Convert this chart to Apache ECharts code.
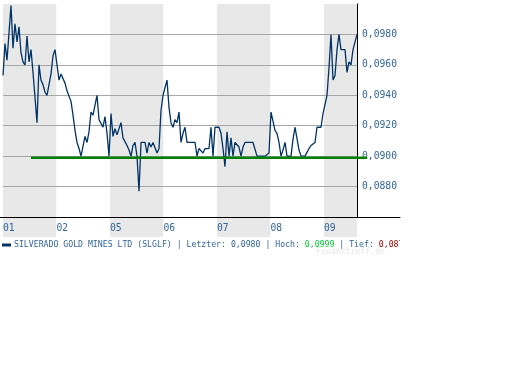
<!DOCTYPE html>
<html><head><meta charset="utf-8">
<script src="https://cdn.jsdelivr.net/npm/echarts@6/dist/echarts.min.js"></script>
<style>html,body{margin:0;padding:0;background:#fff}#c{width:512px;height:384px}</style>
</head><body><div id="c"></div>
<script>
var seriesName = 'SILVERADO GOLD MINES LTD (SLGLF)';
var monthLabels = ['01','02','05','06','07','08','09'];
var prices = [
 .0953,.0974,.0963,.0981,.0999,.0971,.0987,.0975,.0985,
 .0968,.0962,.0960,.0979,.0962,.0970,.0955,.0955,.0922,.0960,
 .0950,.0947,.0942,.0940,.0940,.0954,.0966,.0970,.0960,.0950,
 .0954,.0954,.0948,.0943,.0942,.0936,.0927,.0917,.0909,.0905,
 .0900,.0900,.0913,.0909,.0916,
 .0929,.0927,.0928,.0940,.0924,.0924,.0919,.0926,.0915,.0900,
 .0928,.0913,.0918,.0914,.0913,.0922,.0912,.0912,.0907,.0904,
 .0900,.0907,.0909,.0900,.0877,.0909,.0909,.0909,.0902,.0909,
 .0906,.0909,.0909,.0902,.0905,.0930,.0940,.0940,.0950,.0932,
 .0922,.0919,.0924,.0922,.0929,
 .0909,.0915,.0919,.0909,.0909,.0909,.0909,.0909,.0900,.0905,
 .0905,.0902,.0905,.0905,.0905,.0919,.0900,.0919,.0918,.0919,
 .0915,.0905,.0893,.0916,.0900,.0912,.0900,.0909,.0909,.0906,
 .0900,.0906,.0909,.0909,.0909,.0909,.0909,.0909,.0900,.0900,
 .0900,.0900,.0900,.0900,.0902,
 .0929,.0928,.0917,.0915,.0909,.0900,.0904,.0909,.0900,.0900,
 .0900,.0911,.0919,.0919,.0904,.0900,.0900,.0900,.0900,.0905,
 .0907,.0906,.0909,.0919,.0919,.0919,.0928,.0928,.0940,.0958,
 .0980,.0950,.0953,.0970,.0980,.0970,.0970,.0970,.0955,.0962,
 .0960,.0970,.0970,.0980
];
var refLevel = 0.0899;
var refStart = 14, refEnd = 182;
var yMin = 0.086, yMax = 0.100, yStep = 0.002;

function fmt(v){ return v.toFixed(4).replace('.', ','); }
var last = prices[prices.length-1];
var hi = Math.max.apply(null, prices);
var lo = Math.min.apply(null, prices);

var font = 'DejaVu Sans Mono';
var chart = echarts.init(document.getElementById('c'), null, {renderer:'canvas'});
chart.setOption({
  animation: false,
  backgroundColor: '#ffffff',
  grid: [
    {left: 3, right: 155, top: 4, bottom: 147},
    {left: 3, right: 155, top: 4, bottom: 167},
    {left: 0, right: 112, top: 4, bottom: 167}
  ],
  xAxis: [
    {gridIndex: 0, type: 'value', min: 0, max: 354/53.5, interval: 1, z: -5,
     axisLine: {show: false}, axisTick: {show: false}, splitLine: {show: false},
     splitArea: {show: true, areaStyle: {color: ['#e8e8e8', '#ffffff']}},
     axisLabel: {inside: true, margin: 4, align: 'left', showMaxLabel: false,
       color: '#336699', fontFamily: font, fontSize: 9.7,
       formatter: function(v){ var s = monthLabels[Math.round(v)]; return s === undefined ? '' : s; }}},
    {gridIndex: 1, type: 'value', min: 0, max: prices.length - 1, show: false},
    {gridIndex: 2, type: 'value', min: -1.5, max: 198.5, z: 3,
     axisLine: {show: true, onZero: false, lineStyle: {color: '#000', width: 1}},
     axisTick: {show: false}, axisLabel: {show: false}, splitLine: {show: false}}
  ],
  yAxis: [
    {gridIndex: 0, type: 'value', show: false, min: 0, max: 1},
    {gridIndex: 1, type: 'value', position: 'right', min: yMin, max: yMax, interval: yStep, z: 2,
     axisLine: {show: true, onZero: false, lineStyle: {color: '#000', width: 1}},
     axisTick: {show: false},
     splitLine: {show: true, showMaxLine: false, lineStyle: {color: '#a6a6a6', width: 1}},
     axisLabel: {margin: 5, showMinLabel: false, showMaxLabel: false, color: '#336699',
       fontFamily: font, fontSize: 9.7, formatter: function(v){ return fmt(v); }}},
    {gridIndex: 2, type: 'value', show: false, min: yMin, max: yMax}
  ],
  legend: {
    data: [seriesName], left: 2, top: 240, itemWidth: 9, itemHeight: 3, itemGap: 0,
    icon: 'rect', padding: 0, z: 2,
    textStyle: {fontFamily: font, fontSize: 8.2, color: '#336699', lineHeight: 10, padding: [0,0,0,-2],
      rich: {g: {color: '#00cc33', fontFamily: font, fontSize: 8.2},
             r: {color: '#990000', fontFamily: font, fontSize: 8.2}}},
    formatter: function(name){
      return name + ' | Letzter: ' + fmt(last) + ' | Hoch: {g|' + fmt(hi) + '} | Tief: {r|' + fmt(lo) + '}';
    }
  },
  graphic: {
    z: 50,
    elements: [
      {type: 'rect', left: 400, top: 238, shape: {width: 112, height: 14}, z: 100,
       style: {fill: '#ffffff'}},
      {type: 'text', left: 316, top: 248, z: 101, style: {text: 'Finanztreff.de', fill: '#e6e6e6',
        font: '8.2px "DejaVu Sans Mono"'}}
    ]
  },
  series: [
    {name: seriesName, type: 'line', xAxisIndex: 1, yAxisIndex: 1, symbol: 'none', z: 4,
     lineStyle: {color: '#003366', width: 1.3}, itemStyle: {color: '#003366'},
     data: prices.map(function(v, i){ return [i, v]; })},
    {name: 'ref', type: 'line', xAxisIndex: 2, yAxisIndex: 2, symbol: 'none', silent: true, z: 5,
     lineStyle: {color: '#008000', width: 2.5},
     data: [[refStart, refLevel], [refEnd, refLevel]]}
  ]
});
</script></body></html>
